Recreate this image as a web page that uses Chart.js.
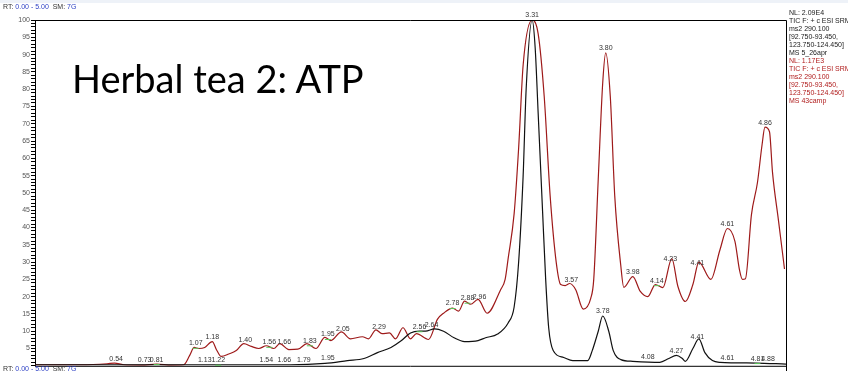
<!DOCTYPE html>
<html>
<head>
<meta charset="utf-8">
<script src="https://cdn.jsdelivr.net/npm/chart.js@4.4.1/dist/chart.umd.min.js"></script>
<style>
body { margin: 0; background: #fff; font-family: "Liberation Sans", Arial, sans-serif; }
#wrap { position: relative; width: 848px; height: 371px; overflow: hidden; }
#topband { position: absolute; left: 0; top: 0; width: 848px; height: 3px; background: #eef2f8; }
.rt { position: absolute; left: 3px; font-size: 7px; color: #333; white-space: nowrap; z-index: 2; }
.rt span { color: #2b3fc4; }
#title { position: absolute; left: 72px; top: 55px; font-family: Lato, sans-serif; font-size: 38px; color: #000; z-index: 2; white-space: nowrap; }
#legend { position: absolute; left: 789px; top: 9px; font-size: 7px; line-height: 8px; color: #222; z-index: 2; white-space: nowrap; }
#legend .red { color: #b01c1c; }
</style>
</head>
<body>
<div id="wrap">
  <div id="topband"></div>
  <canvas id="chart"></canvas>
  <div class="rt" style="top:3px">RT: <span>0.00 - 5.00</span>&nbsp; SM: <span>7G</span></div>
  <div class="rt" style="top:365px">RT: <span>0.00 - 5.00</span>&nbsp; SM: <span>7G</span></div>
  <div id="title">Herbal tea 2: ATP</div>
  <div id="legend">
    NL: 2.09E4<br>TIC F: + c ESI SRM<br>ms2 290.100<br>[92.750-93.450,<br>123.750-124.450]<br>MS 5_26apr<br>
    <span class="red">NL: 1.17E3<br>TIC F: + c ESI SRM<br>ms2 290.100<br>[92.750-93.450,<br>123.750-124.450]<br>MS 43camp</span>
  </div>
</div>
<script>
"use strict";

// retention time (min) and relative abundance (%)
const blackTimes = [0, 0.5, 1.0, 1.5, 1.70, 1.93, 2.08, 2.19, 2.28, 2.37, 2.44, 2.50, 2.56, 2.60, 2.66, 2.72, 2.79, 2.86,
    2.95, 3.00, 3.08, 3.15, 3.19, 3.22, 3.25, 3.27, 3.31, 3.33, 3.35, 3.38, 3.40, 3.42, 3.45, 3.52, 3.58, 3.68, 3.71,
    3.75, 3.78, 3.82, 3.85, 3.90, 3.98, 4.16, 4.22, 4.27, 4.31, 4.33, 4.38, 4.42, 4.46, 4.51, 4.56, 4.80, 5.0];
const blackValues = [0.3, 0.3, 0.3, 0.3, 0.3, 0.7, 1.5, 2.1, 3.8, 5.3, 7.3, 9.5, 10, 10, 10.7, 10, 8.1, 7,
    7.3, 8.1, 9.2, 12.4, 17, 30, 55, 80, 100, 92, 73, 44, 25, 11, 4.4, 2.4, 1.5, 1.5, 4.4,
    10, 14.4, 10, 4.4, 1.8, 1.3, 1, 2.1, 3, 2.1, 1.3, 5, 7.8, 3.8, 1.5, 1, 0.8, 0.5];

const redTimes = [0, 0.31, 0.48, 0.53, 0.59, 0.71, 0.81, 0.91, 0.99, 1.03, 1.06, 1.09, 1.13, 1.18, 1.21, 1.24, 1.29,
    1.34, 1.39, 1.44, 1.49, 1.54, 1.59, 1.63, 1.69, 1.75, 1.81, 1.87, 1.93, 1.97, 2.04, 2.10, 2.18, 2.22, 2.27,
    2.31, 2.36, 2.40, 2.45, 2.50, 2.54, 2.62, 2.68, 2.72, 2.78, 2.82, 2.86, 2.90, 2.95, 3.01, 3.10, 3.13, 3.15,
    3.19, 3.22, 3.25, 3.31, 3.35, 3.39, 3.43, 3.47, 3.50, 3.53, 3.56, 3.60, 3.65, 3.70, 3.72, 3.75, 3.78, 3.80,
    3.83, 3.86, 3.90, 3.92, 3.98, 4.03, 4.08, 4.13, 4.18, 4.24, 4.28, 4.33, 4.38, 4.42, 4.50, 4.56, 4.61, 4.66,
    4.69, 4.71, 4.73, 4.77, 4.81, 4.84, 4.86, 4.89, 4.91, 4.95, 4.99];
const redValues = [0.3, 0.3, 0.6, 0.8, 0.3, 0.2, 0.5, 0.2, 0.3, 3.0, 5.3, 5.0, 5.3, 7.0, 4.5, 2.7, 3.4,
    4.4, 6.4, 5.6, 5.0, 5.8, 5.0, 6.4, 4.7, 4.8, 6.4, 5.0, 8.2, 7.3, 9.8, 7.8, 8.4, 7.8, 10.4,
    9.3, 9.5, 7.8, 11.0, 7.8, 9.3, 7.6, 13.5, 15.2, 16.7, 15.8, 18.7, 17.8, 19.2, 15.2, 22, 25, 31,
    44, 63, 87, 100, 96, 78, 49, 30, 23.5, 23.2, 23.8, 22, 16.4, 19.5, 25, 54, 82, 90.5,
    78, 49, 29, 22.7, 25.8, 21.5, 20, 23.5, 22.6, 31, 23, 18.6, 23.5, 30, 25, 33.5, 39.7, 36,
    27.8, 25, 25.2, 43.7, 53, 63.7, 69, 67.7, 56, 42, 28];

// peak labels (retention times) per trace
const redPeaks = [0.54, 0.73, 0.81, 1.07, 1.18, 1.40, 1.56, 1.66, 1.83, 1.95, 2.05, 2.29, 2.78, 2.88, 2.96,
    3.31, 3.57, 3.80, 3.98, 4.14, 4.23, 4.41, 4.61, 4.86];
const blackPeaks = [1.13, 1.22, 1.54, 1.66, 1.79, 1.95, 2.56, 2.64, 3.78, 4.08, 4.27, 4.41, 4.61, 4.81, 4.88];
// peaks flagged with a green marker
const redMarked = [0.81, 1.07, 1.56, 1.83, 1.95, 2.78, 2.88, 4.14];
const blackMarked = [1.22, 2.56, 4.81];

const yTickLabels = [5, 10, 15, 20, 25, 30, 35, 40, 45, 50, 55, 60, 65, 70, 75, 80, 85, 90, 95, 100];

function valueAt(ts, vs, t) {
    for (let i = 1; i < ts.length; i++) {
        if (t <= ts[i]) {
            const f = (t - ts[i - 1]) / (ts[i] - ts[i - 1]);
            return vs[i - 1] + f * (vs[i] - vs[i - 1]);
        }
    }
    return vs[vs.length - 1];
}

const toPoints = (ts, vs) => ts.map((t, i) => ({ x: t, y: vs[i] }));

const framePlugin = {
    id: "frame",
    afterDraw(chart) {
        const { ctx, chartArea: a, scales } = chart;
        ctx.save();
        ctx.strokeStyle = "#000";
        ctx.lineWidth = 1;
        ctx.beginPath();
        ctx.moveTo(a.left, a.top + 0.5);
        ctx.lineTo(a.right + 0.5, a.top + 0.5);
        ctx.lineTo(a.right + 0.5, chart.height);
        ctx.moveTo(a.left, a.bottom + 0.5);
        ctx.lineTo(a.right, a.bottom + 0.5);
        ctx.stroke();

        // peak labels
        ctx.font = "7px 'Liberation Sans', Arial, sans-serif";
        ctx.textAlign = "center";
        ctx.textBaseline = "bottom";
        const drawLabels = (peaks, marked, ts, vs) => {
            peaks.forEach(t => {
                const px = scales.x.getPixelForValue(t);
                const py = scales.y.getPixelForValue(valueAt(ts, vs, t));
                ctx.fillStyle = "#333";
                ctx.fillText(t.toFixed(2), px, py - 1);
                if (marked.includes(t)) {
                    ctx.strokeStyle = "#5cc85c";
                    ctx.beginPath();
                    ctx.moveTo(px - 3, py + 0.5);
                    ctx.lineTo(px + 3, py + 0.5);
                    ctx.stroke();
                }
            });
        };
        drawLabels(redPeaks, redMarked, redTimes, redValues);
        drawLabels(blackPeaks, blackMarked, blackTimes, blackValues);
        ctx.restore();
    }
};

const ctx = document.getElementById("chart").getContext("2d");

let config = {
    type: "line",
    data: {
        datasets: [{
            label: "MS 5_26apr",
            data: toPoints(blackTimes, blackValues),
            borderColor: "#111",
            borderWidth: 1.2,
            pointRadius: 0,
            cubicInterpolationMode: "monotone"
        }, {
            label: "MS 43camp",
            data: toPoints(redTimes, redValues),
            borderColor: "#9e1a1a",
            borderWidth: 1.2,
            pointRadius: 0,
            cubicInterpolationMode: "monotone"
        }]
    },
    options: {
        responsive: true,
        maintainAspectRatio: false,
        animation: false,
        layout: { padding: { left: 0, top: 20, right: 62, bottom: 1 } },
        plugins: { legend: { display: false }, tooltip: { enabled: false } },
        scales: {
            x: { type: "linear", min: 0, max: 5, display: false },
            y: {
                min: 0,
                max: 100,
                afterFit(scale) { scale.width = 35; },
                grid: { drawOnChartArea: false, tickLength: 4, color: "#000" },
                border: { color: "#000", width: 1 },
                ticks: {
                    stepSize: 1,
                    autoSkip: false,
                    padding: 1,
                    color: "#555",
                    font: { size: 7, family: "'Liberation Sans', Arial, sans-serif" },
                    callback: v => yTickLabels.includes(v) ? String(v) : ""
                }
            }
        }
    },
    plugins: [framePlugin]
};

document.getElementById("chart").parentNode.style.height = "371px";
let myChart = new Chart(ctx, config);
</script>
</body>
</html>
